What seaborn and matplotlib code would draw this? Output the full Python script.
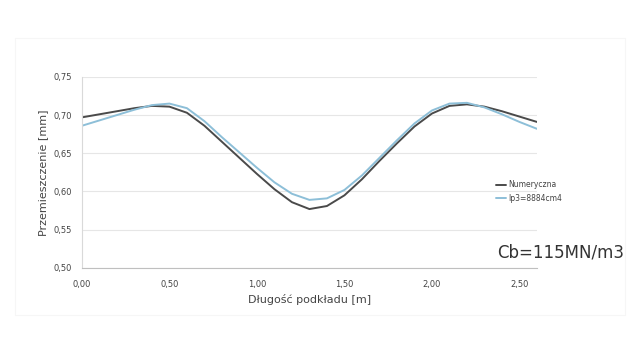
import numpy as np
import pandas as pd
import matplotlib
matplotlib.use("Agg")
import matplotlib.pyplot as plt
import seaborn as sns

# Length along the sleeper [m]
x_m = [0.0, 0.1, 0.2, 0.3, 0.4, 0.5, 0.6, 0.7, 0.8, 0.9, 1.0, 1.1, 1.2, 1.3,
       1.4, 1.5, 1.6, 1.7, 1.8, 1.9, 2.0, 2.1, 2.2, 2.3, 2.4, 2.5, 2.6]

# Displacement [mm], numerical model
numeryczna = [0.697, 0.701, 0.705, 0.709, 0.712, 0.711, 0.703, 0.686, 0.665,
              0.644, 0.623, 0.603, 0.586, 0.577, 0.581, 0.595, 0.616, 0.640,
              0.663, 0.685, 0.702, 0.712, 0.714, 0.711, 0.705, 0.698, 0.691]

# Displacement [mm], beam with Ip3 = 8884 cm4
ip3 = [0.686, 0.693, 0.700, 0.707, 0.713, 0.715, 0.709, 0.692, 0.671,
       0.651, 0.631, 0.612, 0.597, 0.589, 0.591, 0.602, 0.621, 0.644,
       0.667, 0.689, 0.706, 0.715, 0.716, 0.710, 0.701, 0.691, 0.682]

series_names = ["Numeryczna", "Ip3=8884cm4"]
y_ticks = [0.50, 0.55, 0.60, 0.65, 0.70, 0.75]
x_ticks = [0.0, 0.5, 1.0, 1.5, 2.0, 2.5]

df = pd.DataFrame({
    "x": x_m * 2,
    "y": numeryczna + ip3,
    "series": [series_names[0]] * len(x_m) + [series_names[1]] * len(x_m),
})

sns.set_theme(style="white")
plt.rcParams["font.family"] = ["DejaVu Sans"]

fig = plt.figure(figsize=(6.4, 3.4), dpi=100)
ax = fig.add_axes([0.128, 0.212, 0.711, 0.562])

palette = {series_names[0]: "#4a4a4a", series_names[1]: "#8dbfd8"}
sns.lineplot(data=df, x="x", y="y", hue="series", palette=palette,
             linewidth=1.4, ax=ax, legend=False)

ax.set_xlim(0.0, 2.6)
ax.set_ylim(0.50, 0.75)
ax.set_yticks(y_ticks)
ax.set_xticks(x_ticks)
ax.set_yticklabels([f"{v:.2f}".replace(".", ",") for v in y_ticks],
                   fontsize=6, color="#444444")
ax.set_xticklabels([f"{v:.2f}".replace(".", ",") for v in x_ticks],
                   fontsize=6, color="#444444")
ax.tick_params(axis="x", length=0, pad=9)
ax.tick_params(axis="y", length=0, pad=7)
ax.grid(axis="y", color="#e6e6e6", linewidth=0.8)
ax.set_axisbelow(True)

for side in ["top", "right"]:
    ax.spines[side].set_visible(False)
ax.spines["left"].set_color("#d9d9d9")
ax.spines["bottom"].set_color("#bfbfbf")
ax.spines["left"].set_linewidth(0.8)
ax.spines["bottom"].set_linewidth(0.8)

ax.set_xlabel("Długość podkładu [m]", fontsize=8, color="#444444", labelpad=3)
ax.set_ylabel("Przemieszczenie [mm]", fontsize=8, color="#444444", labelpad=4)

# Legend to the right of the plot area
handles = [plt.Line2D([], [], color=palette[n], linewidth=1.4) for n in series_names]
leg = fig.legend(handles, series_names, loc="upper left",
                 bbox_to_anchor=(0.765, 0.49), frameon=False, fontsize=5.5,
                 handlelength=1.2, handletextpad=0.3, labelspacing=0.6)
for t in leg.get_texts():
    t.set_color("#444444")

fig.text(0.776, 0.258, "Cb=115MN/m3", fontsize=12, color="#333333",
         ha="left", va="center")

# Faint outer frame of the chart area
fig.patches.append(plt.Rectangle((0.024, 0.074), 0.952, 0.815,
                                 transform=fig.transFigure, fill=False,
                                 edgecolor="#f6f6f6", linewidth=0.8))

fig.savefig("out.png", dpi=100, facecolor="white")
